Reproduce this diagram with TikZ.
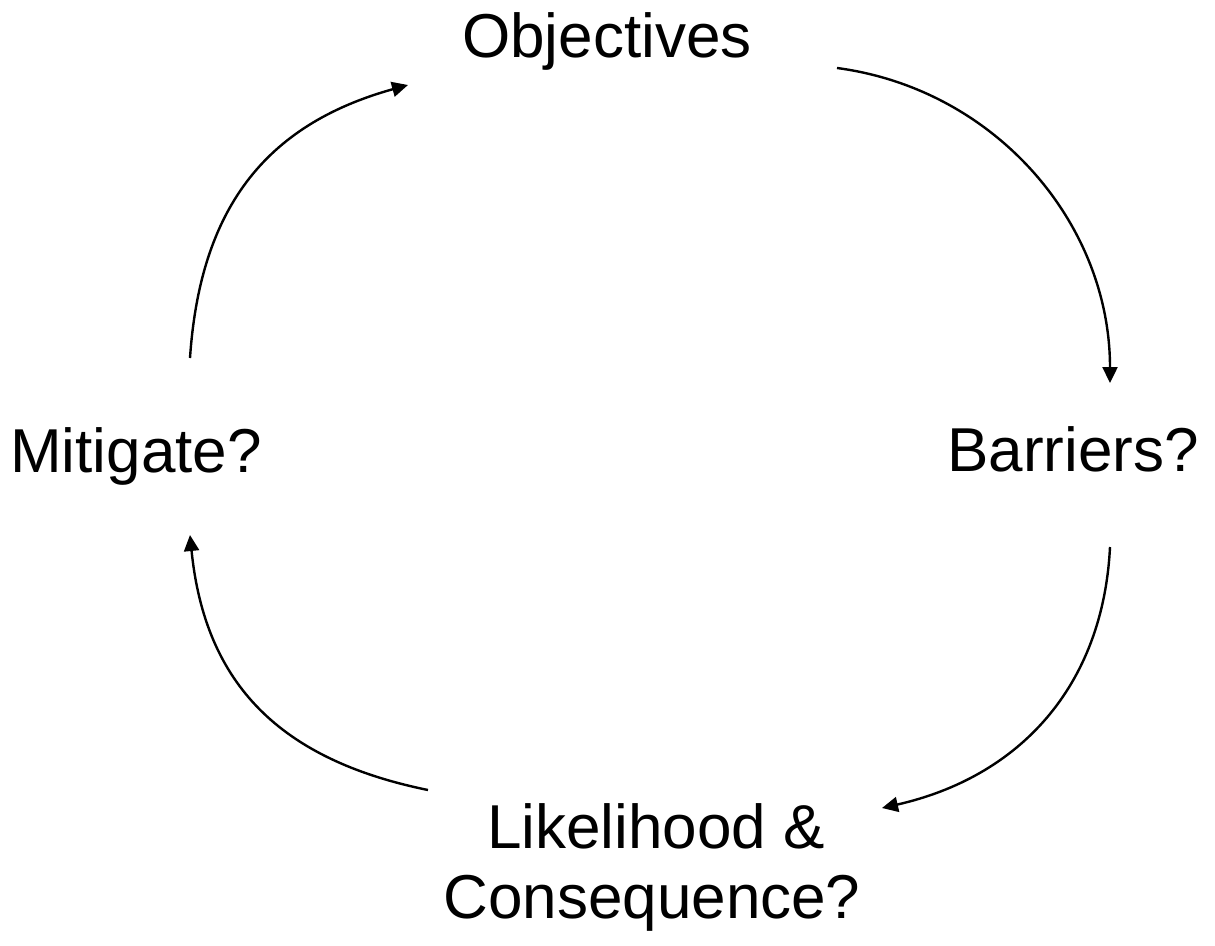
\documentclass[tikz,border=0pt]{standalone}
\usepackage{fontspec}
\setmainfont{Liberation Sans}
\usetikzlibrary{arrows.meta}
\begin{document}
\begin{tikzpicture}[x=1pt,y=-1pt,
  lbl/.style={inner sep=0pt,outer sep=0pt,font=\fontsize{62}{69}\selectfont,anchor=base},
  conn/.style={line width=2.4pt,-{Triangle[length=16pt,width=15pt]}}]
\useasboundingbox (0,0) rectangle (1215,945);
\node[lbl] (obj) at (607,57) {Objectives};
\node[lbl] (bar) at (1073,471) {Barriers?};
\node[lbl] (lik) at (656,848) {Likelihood \&};
\node[lbl] (con) at (652,918) {Consequence?};
\node[lbl] (mit) at (136,472) {Mitigate?};
\coordinate (a1) at (837,68);
\coordinate (a2) at (1110,383);
\coordinate (b1) at (1110,547);
\coordinate (b2) at (882,808);
\coordinate (c1) at (428,790);
\coordinate (c2) at (190,535);
\coordinate (d1) at (190,358);
\coordinate (d2) at (408,85);
\draw[conn] (a1) .. controls (995,89) and (1110,223) .. (a2);
\draw[conn] (b1) .. controls (1103,687) and (1019,777) .. (b2);
\draw[conn] (c1) .. controls (281,760) and (205,685) .. (c2);
\draw[conn] (d1) .. controls (200,210) and (264,125) .. (d2);
\end{tikzpicture}
\end{document}
